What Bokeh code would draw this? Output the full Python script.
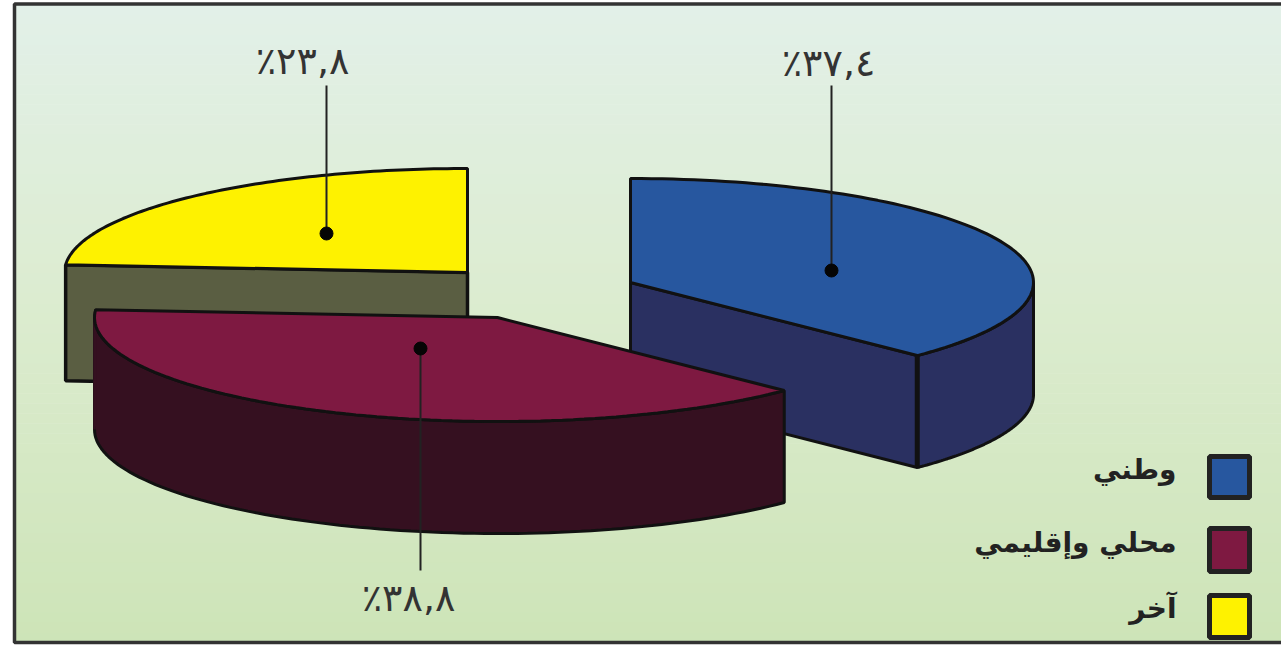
import numpy as np
from bokeh.plotting import figure
from bokeh.core.properties import value
from bokeh.embed import file_html
from bokeh.resources import INLINE

categories = ["وطني", "محلي وإقليمي", "آخر"]
shares = [37.4, 38.8, 23.8]
share_labels = ["٪٣٧,٤", "٪٣٨,٨", "٪٢٣,٨"]
top_colors = ["#27579f", "#7e1941", "#fef200"]
side_colors = ["#2a3061", "#351020", "#5a5e42"]
bg_top = (226, 240, 232)
bg_mid = (220, 236, 208)
bg_bottom = (205, 228, 183)

W, H = 1281, 652
RX, RY = 403, 104
centers = [(630, 282), (497, 317), (467, 272)]
depths = [112, 112, 116]
dots = [(831, 270), (420, 348), (326, 233)]
ends = [(831, 85), (420, 570), (326, 85)]
label_pos = [(828, 62), (408, 597), (302, 60)]
legend_y = [(456, 497), (528, 571), (595, 637)]
OUT = "#111111"

p = figure(width=W, height=H, x_range=(0, W), y_range=(H, 0), toolbar_location=None,
           output_backend="svg", min_border=0, outline_line_color=None,
           background_fill_color="white", border_fill_color="white")
p.axis.visible = False
p.grid.visible = False

# background gradient in bands
edges = np.linspace(4, 642, 65)
for a, b in zip(edges[:-1], edges[1:]):
    t = (a - 4) / 638
    if t < 0.45:
        c = [bg_top[i] + (bg_mid[i] - bg_top[i]) * t / 0.45 for i in range(3)]
    else:
        c = [bg_mid[i] + (bg_bottom[i] - bg_mid[i]) * (t - 0.45) / 0.55 for i in range(3)]
    col = "#%02x%02x%02x" % tuple(int(round(v)) for v in c)
    p.quad(left=14, right=W, top=a, bottom=b + 0.5, fill_color=col, line_color=None)

# frame
p.line([W, 14, 14, W], [3.5, 3.5, 642, 642], line_color="#333333", line_width=3.5)


def rim(cx, cy, a0, a1, n=90):
    """Points on the ellipse, angles in degrees clockwise from 12 o'clock."""
    t = np.radians(np.linspace(a0, a1, n))
    return cx + RX * np.sin(t), cy - RY * np.cos(t)


# slice angles follow from the shares
total = sum(shares)
angles = np.cumsum([0] + [s / total * 360 for s in shares])

for i in [2, 0, 1]:
    cx, cy = centers[i]
    d = depths[i]
    a0, a1 = angles[i], angles[i + 1]
    if i == 0:
        xe, ye = rim(cx, cy, a1, a1, 1)
        p.patch([cx, xe[0], xe[0], cx], [cy, ye[0], ye[0] + d, cy + d], fill_color=side_colors[i],
                line_color=OUT, line_width=3)
    if i == 2:
        xe, ye = rim(cx, cy, a0, a0, 1)
        p.patch([cx, xe[0], xe[0], cx], [cy, ye[0], ye[0] + d, cy + d], fill_color=side_colors[i],
                line_color=OUT, line_width=3.5)
    # outer wall: the part of the rim in front of the widest points
    w0, w1 = max(a0, 90), min(a1, 270)
    if w1 > w0:
        wx, wy = rim(cx, cy, w0, w1)
        p.patch(np.r_[wx, wx[::-1]], np.r_[wy, wy[::-1] + d], fill_color=side_colors[i],
                line_color=OUT, line_width=3)
    # the maroon wall continues to the end of its slice
    if i == 1:
        wx, wy = rim(cx, cy, 270, a1, 12)
        p.patch(np.r_[wx, wx[::-1]], np.r_[wy, wy[::-1] + d], fill_color=side_colors[i],
                line_color=side_colors[i], line_width=2.5)
    # top face
    tx, ty = rim(cx, cy, a0, a1)
    p.patch(np.r_[cx, tx], np.r_[cy, ty], fill_color=top_colors[i], line_color=OUT, line_width=3)
    if i == 0:
        xe, ye = rim(cx, cy, a1, a1, 1)
        p.line([xe[0], xe[0]], [ye[0], ye[0] + d], line_color=OUT, line_width=5)

# leader lines with dots and labels
for i in [2, 0, 1]:
    p.line([dots[i][0], ends[i][0]], [dots[i][1], ends[i][1]], line_color="#222222", line_width=2)
    p.scatter([dots[i][0]], [dots[i][1]], size=13, color="#050505")
    p.text([label_pos[i][0]], [label_pos[i][1]], text=[share_labels[i]], text_align="center",
           text_baseline="middle", text_font=value("DejaVu Sans"), text_font_size="38px",
           text_color="#333333")

# legend
for i in range(3):
    y0, y1 = legend_y[i]
    p.quad(left=1209, right=1249, top=y0, bottom=y1, fill_color=top_colors[i],
           line_color="#222222", line_width=5)
    p.text([1176], [(y0 + y1) / 2 - 8], text=[categories[i]], text_align="right",
           text_baseline="middle", text_font=value("DejaVu Sans"), text_font_size="28px",
           text_font_style="bold", text_color="#222222")

open("out.html", "w").write(file_html(p, INLINE))
